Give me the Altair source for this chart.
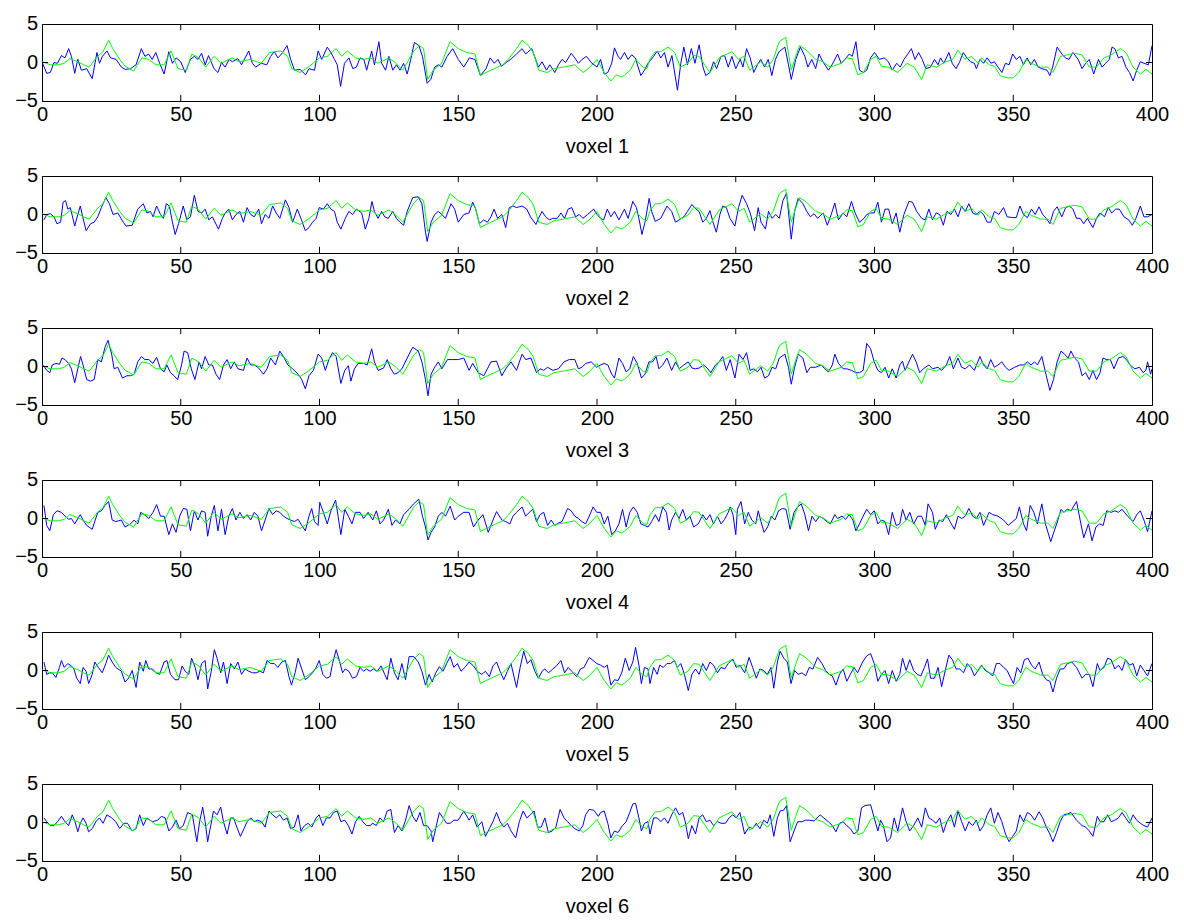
import altair as alt
import pandas as pd

X_TICKS = [0, 50, 100, 150, 200, 250, 300, 350, 400]
Y_TICKS = [-5, 0, 5]
Y_LABELS = ["\u22125", "0", "5"]
TITLES = ["voxel 1", "voxel 2", "voxel 3", "voxel 4", "voxel 5", "voxel 6"]

GREEN = [(0,0.1),(3,-0.3),(6,-0.3),(8,-0.1),(10,0.5),(13,0.1),(15,-0.3),(17,-0.6),(20,0.8),(22,1.4),(24,2.9),(25.5,1.8),(28,0.4),(30,-0.5),(33,-1.1),(36,0.6),(38.5,0.4),(41,-0.3),(44,-0.3),(46.5,1.5),(49,-0.8),(52,-1.0),(54,1.1),(56.5,0.6),(59,-0.6),(62,0.8),(64.5,-0.1),(68.5,0.6),(71,0.1),(75,0.4),(79,-0.1),(82,1.3),(86,1.5),(88.5,0.8),(90,-0.8),(93,-1.3),(96,-0.6),(100,0.6),(102.8,0.8),(106,1.8),(108,0.8),(110,1.5),(113,0.6),(116,0.4),(118.5,0.6),(121,-0.1),(125,0.6),(127.6,-0.1),(130,-1.0),(134,1.5),(136,2.2),(137.5,1.8),(139,-2.2),(141,-1.0),(144,-0.1),(147,2.7),(150,1.8),(153,1.3),(156,1.1),(158,-1.7),(160,-1.3),(163,-0.8),(166,-0.3),(168,0.4),(171,1.8),(173,2.9),(175,2.3),(177,1.3),(179,-1.0),(182,-1.3),(184.5,-0.8),(188,-0.6),(192,-0.3),(195,-1.3),(197.5,-0.6),(200,0.4),(202.6,-1.3),(205,-2.4),(207,-1.6),(209,-1.9),(212,-1.0),(214,0.4),(216.5,-0.6),(218,-0.8),(219,0.4),(221,1.4),(223,1.4),(225.6,2.0),(228,1.3),(230,-0.6),(232.8,-0.1),(234.8,0.9),(236.8,0.8),(238.8,-0.3),(240.7,-1.3),(244,0.6),(248.6,1.4),(251,0.4),(253,0.8),(255,-1.0),(259,0.1),(261.5,-0.6),(263.5,0.4),(265.7,2.7),(268,3.3),(270,-1.0),(271.6,0.8),(273,2.2),(275.5,1.6),(278.8,0.4),(281.4,0.1),(284,-0.6),(288,-0.1),(290,0.6),(292,0.5),(294,-1.6),(296,-1.3),(298.6,0.4),(300.6,0.8),(302.5,-0.5),(305,-0.6),(308.4,-1.3),(311.7,-0.1),(314.3,-0.6),(317,-2.2),(319,-0.3),(322.3,-0.6),(325.6,0.1),(328.2,0.4),(330,1.6),(332.6,0.4),(335,0.8),(337.3,-0.1),(338.6,0.6),(341.4,-0.3),(343.3,-0.5),(345.3,-1.7),(348,-2.0),(350,-2.0),(352,-1.3),(354.5,0.4),(356.5,-0.1),(359.8,-0.6),(362.5,-0.6),(364.3,-1.3),(367,0.8),(369.6,1.0),(372,1.2),(374.8,1.0),(377.4,-0.6),(380,-0.6),(382.7,0.6),(385.3,1.0),(388.6,1.8),(390.6,1.3),(393.2,-0.6),(395.8,-1.5),(397.8,-0.9),(400,-1.5)]

BLUE1 = [(0,0.1),(1.7,-1.4),(3,-1.3),(4.3,0.0),(5.6,-0.1),(7,0.9),(8.3,0.6),(9.6,1.8),(10.6,0.8),(11.8,-1.4),(12.9,0.4),(14.2,-1.0),(16.1,-0.8),(18.1,-2.1),(19.8,1.3),(20.7,-0.1),(21.8,0.8),(23.4,1.5),(24.7,0.6),(26.7,0.4),(28.6,-0.6),(30,-0.9),(31.9,-0.8),(33.9,-0.3),(35.8,1.8),(37.1,0.8),(38.4,1.1),(39.7,0.4),(41,1.3),(42.4,-0.1),(44,-1.5),(45.7,1.4),(47,-0.1),(48.3,0.6),(50,0.1),(51.6,-1.3),(53.5,0.4),(54.9,0.8),(56.2,0.4),(57.5,1.2),(58.8,-0.3),(60,0.9),(62,-0.8),(63.4,-1.3),(64.7,0.0),(66,-0.6),(67.4,0.4),(68.6,0.1),(70.6,0.5),(71.9,-0.3),(73.2,0.6),(74.5,1.5),(75.8,-0.1),(77,-0.6),(79,-0.1),(81,-0.3),(82.4,0.8),(83.7,1.4),(85,0.6),(86.3,1.1),(88.3,2.2),(89.6,0.4),(91,-1.0),(93,-0.9),(95,-1.6),(96.2,-0.8),(98.2,-1.0),(99.5,1.5),(100.8,0.4),(102.8,2.0),(104.1,1.3),(105.4,0.4),(106.4,-0.3),(107.6,-3.1),(109,-0.1),(110.6,0.6),(112,-0.8),(113.3,-0.6),(114.6,0.6),(116,0.4),(117,-1.0),(118.8,1.5),(119.8,-0.3),(121.4,2.7),(122.4,-0.1),(123.8,-1.0),(125,0.8),(126.4,-1.0),(127.7,-0.3),(129,-1.0),(130.3,-0.1),(131.6,-1.5),(132.9,0.4),(134.2,2.6),(135.8,2.2),(137.1,0.8),(138.8,-2.7),(140.1,-2.2),(141.5,-0.6),(142.8,-0.3),(144.1,-0.6),(146,0.8),(148,1.8),(150,0.4),(152,-0.6),(154,0.6),(156,0.4),(158,-1.7),(160,-0.8),(161.5,0.6),(163,-0.1),(164.3,0.4),(165.6,-0.5),(167.6,0.1),(168.9,0.4),(171,1.1),(173,1.8),(174.3,1.1),(176.5,1.8),(178.9,-0.6),(180.2,0.1),(181.8,-1.0),(183,-0.3),(184.8,-1.3),(186.1,-0.3),(187.4,0.4),(188.7,0.0),(190.7,1.2),(192,0.6),(193.3,-0.1),(194.6,0.4),(196.2,0.8),(197.9,0.0),(200,-0.6),(201.3,0.4),(202.6,-1.5),(203.9,-1.3),(205.3,-0.1),(206.3,1.9),(207.6,0.8),(208.5,0.4),(209.9,1.3),(211.2,0.4),(212.5,1.0),(213.8,0.6),(215.8,-1.7),(217.1,-1.0),(218.4,-0.1),(220.4,0.8),(221.7,1.5),(223,0.6),(224.3,1.3),(225.6,-0.6),(227,0.9),(229,-3.6),(230.2,-0.1),(231.3,2.0),(232.6,-0.3),(234,1.8),(235.3,-0.1),(236.8,2.3),(238.2,-0.6),(239.2,-1.7),(240.7,-1.3),(242,0.1),(243.1,-0.8),(244.7,0.8),(246,0.9),(247.3,-0.6),(248.6,0.8),(250,-0.8),(251.6,0.4),(252.6,-0.6),(253.9,1.8),(255.2,0.6),(256.5,-1.3),(257.8,-0.3),(259,0.4),(260.4,-0.6),(261.7,0.4),(263,-1.7),(264.3,0.4),(265.6,1.4),(267.7,2.0),(269,-0.3),(270,-2.2),(271.6,0.4),(273.3,2.0),(274.9,0.8),(276,-0.6),(277.4,0.4),(278.8,-0.8),(280,1.1),(281.4,0.1),(283.4,-1.0),(284.7,-0.3),(286.7,1.1),(288,-0.1),(289.3,0.4),(290.9,1.1),(292,0.8),(293.3,2.7),(294.6,-1.0),(296,-1.3),(297.2,-1.0),(298.6,0.6),(300,1.3),(301.8,0.4),(303.5,0.6),(305,0.1),(306.4,-1.0),(308,-0.1),(309.3,-0.6),(310.6,0.4),(312,1.1),(313.3,1.8),(314.6,0.4),(315.9,1.3),(317.2,0.4),(318.5,-0.8),(320.2,-0.6),(321.6,0.4),(322.9,-0.3),(323.8,0.6),(325,-0.1),(326.8,1.3),(328,-0.1),(329.4,-0.8),(330.7,0.1),(332,1.3),(333.3,0.6),(334.6,0.1),(336,-0.1),(336.7,-0.8),(338,0.4),(339.3,-0.1),(340.6,0.6),(342,-0.1),(343.2,0.1),(344.5,-0.6),(345.9,-1.3),(347.2,-0.1),(348.5,-0.3),(349.8,1.1),(351.1,0.4),(352.4,0.8),(353.7,-0.3),(355,0.6),(356.3,-0.3),(357.6,0.4),(359,-0.6),(360.3,-0.8),(362.2,-1.0),(363.2,-1.7),(364.2,-0.6),(365.8,2.0),(367.5,1.1),(368.8,0.6),(370.1,0.4),(371.5,1.3),(373.4,0.4),(374.8,-0.8),(376.1,-0.1),(377.4,0.4),(379,-1.5),(380.7,0.4),(382,-0.6),(383.3,-0.1),(384.6,0.4),(385.6,2.0),(386.6,1.8),(387.9,0.6),(389.2,0.8),(390.6,-0.6),(391.9,-1.3),(393.2,-2.4),(394.5,-1.0),(395.8,0.1),(397.1,-0.1),(398.7,-0.3),(400,2.2)]

BLUE2 = [(0.7,-0.7),(1.7,0),(3.0,0.1),(4.3,-0.3),(5.4,-1.2),(6.7,-1.0),(7.6,1.6),(8.5,1.8),(9.3,0.7),(10.2,0.9),(11.8,-1.5),(12.9,0),(13.8,1.1),(14.8,-0.5),(15.9,-2.1),(17.5,-1.2),(18.8,-1.0),(20.1,-0.3),(21.4,0.9),(23.0,2.2),(24.3,1.4),(25.6,0),(27.3,0.2),(29.3,-1.0),(30.3,-1.5),(32.5,-1.4),(34.5,0.7),(36.5,1.4),(37.8,0.2),(39.1,0.4),(40.0,-0.3),(41.3,1.1),(42.7,0),(43.7,-0.5),(44.8,1.4),(45.9,1.1),(47.0,-1.0),(48.0,-2.6),(49.2,-1.2),(50.9,1.1),(52.2,-0.7),(53.5,-0.3),(54.9,2.5),(56.2,0.4),(57.5,0.2),(58.8,0.7),(60.1,-0.7),(61.4,-0.3),(63.6,-1.9),(65.0,-0.5),(66.0,0.2),(67.3,0.7),(68.6,-0.7),(69.9,0),(71.3,0.4),(72.6,-1.0),(73.9,0.9),(75.2,0),(76.5,-0.3),(78.1,0.7),(79.1,-1.2),(80.4,0),(81.8,-0.5),(83.1,1.1),(84.4,0.2),(85.7,-0.5),(87.7,1.9),(89.0,0.9),(90.3,-1.0),(92.0,0.7),(93.3,-0.5),(94.9,-2.1),(96.2,-1.7),(97.5,-1.0),(98.8,-0.5),(99.9,0.9),(101.4,0.7),(102.8,1.4),(104.1,0.7),(105.4,0.4),(106.4,-1.0),(107.7,-1.9),(109.3,-0.5),(110.6,0.4),(111.9,0),(113.3,0.7),(115.2,0.2),(116.5,-1.9),(117.8,-0.5),(118.9,1.7),(119.8,0.4),(121.1,-0.5),(122.4,0.4),(123.5,-0.3),(124.8,-0.5),(126.4,0.4),(127.7,-0.5),(129.0,-1.0),(130.3,-1.4),(131.6,0.4),(133.6,2.2),(135.6,2.3),(136.9,1.4),(138.2,-2.3),(138.8,-3.5),(140.2,-1.0),(141.5,0),(142.8,0.4),(144.1,0),(145.4,-0.5),(147.4,1.4),(148.7,0.7),(150.0,-1.0),(152.0,0),(153.9,0.2),(155.2,1.6),(156.3,0.7),(157.6,-1.2),(159.2,-0.7),(160.5,-1.0),(161.8,-0.3),(162.9,0.7),(164.2,-0.5),(165.7,0),(167.1,-1.7),(168.4,0.9),(169.7,1.1),(171.0,0.9),(173.0,1.1),(174.7,0.7),(176.0,-0.3),(178.0,-1.3),(178.9,-0.5),(180.2,0.4),(181.5,-0.3),(182.8,-0.7),(184.1,-0.5),(185.7,-0.5),(187.0,0.2),(188.3,-0.5),(189.6,0.7),(190.9,0.9),(192.3,-0.3),(193.6,0),(194.9,-0.5),(196.6,0),(198.8,0.7),(200.0,0),(201.3,-0.5),(202.4,-0.7),(203.7,0.7),(205.0,-0.3),(206.3,0.4),(207.9,-0.7),(209.9,0.7),(211.2,-0.5),(212.9,1.7),(214.2,0.9),(215.1,-0.5),(216.2,-2.6),(217.3,-1.0),(218.8,2.1),(219.7,0.4),(221.0,-0.9),(223.0,-0.5),(225.2,1.1),(226.9,0.4),(228.3,-1.0),(229.6,-0.7),(231.3,-0.3),(232.6,0.4),(234.2,1.3),(235.7,0.7),(236.8,0.4),(238.1,-1.0),(239.4,-0.5),(240.7,0.5),(241.8,-1.0),(243.0,-2.3),(244.3,0),(245.3,1.1),(246.6,0.9),(247.9,-0.5),(249.7,-1.5),(251.0,0.9),(252.3,2.5),(253.9,1.4),(255.2,0.2),(256.8,-2.1),(258.1,0.9),(259.1,-1.0),(260.7,-1.9),(261.8,0.4),(263.1,-0.5),(264.4,0),(265.7,-0.5),(267.0,1.8),(268.3,2.8),(270.0,-3.2),(271.2,0.4),(272.5,2.1),(274.2,1.4),(275.6,0.4),(276.9,-0.3),(278.2,0.1),(279.5,-0.5),(281.5,0.2),(283.0,-1.4),(284.4,0),(285.7,1.5),(287.0,-0.7),(288.7,0.2),(290.0,-0.3),(291.7,1.7),(293.0,0.2),(294.6,-1.0),(296.2,-0.5),(297.2,0),(298.6,0.2),(299.9,0.2),(301.2,1.6),(302.5,-1.0),(303.8,0.7),(305.1,0.7),(306.4,-1.2),(307.8,0.2),(309.1,-2.3),(310.6,0),(312.4,1.7),(313.7,1.6),(315.2,0.4),(317.0,-0.5),(318.3,-0.7),(319.6,0.7),(320.9,-0.7),(322.2,0.2),(323.5,0),(324.8,-1.4),(326.1,0.4),(327.5,0),(328.8,0.7),(330.1,-0.3),(331.4,1.1),(332.7,0.4),(334.0,1.4),(335.4,0.2),(336.7,0),(338.0,0.4),(339.3,0),(340.6,-1.0),(341.9,-1.0),(343.2,0.4),(344.8,0),(346.5,0.9),(347.8,-0.3),(349.8,-0.4),(351.1,-0.4),(352.4,1.1),(353.7,0),(355.1,-0.4),(356.6,0.7),(357.9,0),(359.3,1.0),(360.6,0),(361.9,-0.5),(363.2,-1.2),(364.5,0.4),(365.8,1.0),(367.5,-0.3),(368.9,0.9),(370.2,1.1),(371.5,0.7),(372.8,-0.5),(374.1,-0.5),(375.4,-1.2),(376.7,-0.5),(378.7,-1.7),(380.0,-0.5),(381.3,0.2),(382.9,-0.3),(384.2,0.9),(385.5,0.2),(386.9,0.7),(388.2,0.7),(389.9,-0.3),(391.6,-0.7),(392.9,-1.4),(394.2,-0.5),(395.8,1.1),(397.1,-0.3),(398.4,-0.3),(400.0,0)]

BLUE3 = [(0.4,0.2),(1.7,-0.5),(2.8,-0.8),(3.7,0.2),(5.0,0.4),(6.3,0.3),(7.2,1.1),(8.3,0.9),(9.6,0.4),(10.6,-0.3),(11.8,-2.1),(12.9,-0.3),(13.9,1.3),(14.8,0.2),(16.1,-1.7),(17.5,-1.9),(18.8,-1.7),(20.1,0.9),(21.4,0.6),(22.7,2.5),(23.8,3.4),(25.1,1.6),(26.0,-0.3),(27.3,-0.1),(29.0,-1.5),(30.6,-1.2),(31.9,-1.2),(33.2,-1.0),(34.5,0.6),(35.8,1.3),(37.1,0.9),(38.5,0.9),(40.0,0.4),(41.3,1.2),(42.7,-0.3),(44.0,-0.7),(45.0,0.2),(46.3,-0.8),(47.6,-1.2),(48.9,-1.7),(50.3,0.2),(51.2,2.0),(52.5,1.8),(53.8,-0.3),(55.1,-1.7),(56.6,0.6),(57.5,-0.3),(58.8,1.3),(60.1,0.2),(61.4,0.2),(62.7,-1.0),(64.0,-1.7),(65.4,0.2),(66.7,0.9),(68.0,-0.3),(69.3,0.6),(70.6,-0.3),(72.6,-0.5),(73.9,1.1),(75.2,0.2),(76.5,0.2),(77.8,-0.1),(79.8,-1.0),(81.1,-0.3),(82.4,1.1),(84.1,0.2),(85.7,2.0),(87.0,1.3),(88.6,0.2),(90.3,-0.3),(92.3,-1.0),(93.6,-1.7),(94.9,-2.9),(96.2,-1.2),(97.8,-0.5),(99.5,1.6),(100.8,1.1),(102.1,-0.5),(103.4,0.9),(104.7,1.8),(106.0,1.3),(107.7,-2.2),(109.1,-0.5),(110.4,0.1),(111.3,-1.9),(112.6,-0.3),(113.9,0.4),(115.9,0.4),(117.2,0.2),(118.8,2.3),(119.8,0.6),(121.1,-0.5),(123.1,-0.2),(124.4,0.9),(125.7,-0.3),(127.0,-1.0),(128.3,-0.8),(129.7,-0.3),(131.6,1.1),(133.6,2.5),(135.6,2.0),(136.9,0.6),(138.2,-1.7),(139.1,-3.8),(140.2,-1.0),(141.5,-0.1),(142.8,0.6),(144.1,-0.3),(146.1,0.9),(148.0,0.9),(150.0,0.9),(152.0,1.1),(153.9,-0.5),(155.2,0.4),(157.2,-0.8),(159.2,-1.2),(160.5,-0.3),(161.8,0.6),(163.8,0.7),(165.7,-1.2),(167.1,-0.3),(169.0,0.6),(171.0,-0.5),(173.0,1.6),(174.3,0.9),(176.2,1.1),(178.2,-0.8),(179.5,-0.3),(180.8,-0.5),(182.2,-0.1),(184.1,-0.5),(186.1,-0.3),(188.1,0.6),(190.0,0.9),(192.0,0.9),(193.3,-0.3),(194.6,-0.1),(195.9,0.4),(197.9,0.6),(199.9,-0.1),(201.3,0.2),(202.6,0.4),(203.9,0.2),(205.3,-1.0),(206.3,-1.5),(207.9,1.1),(209.2,0.4),(210.5,-0.7),(211.8,-0.3),(213.1,1.3),(214.5,0.4),(216.0,-1.5),(217.3,-1.0),(218.7,0.6),(220.0,0.6),(221.3,1.3),(222.3,-0.3),(223.7,0.2),(225.2,1.1),(226.9,-0.5),(228.3,0.6),(229.6,-0.3),(231.3,0.2),(232.9,0.6),(234.2,-0.2),(235.5,-0.3),(236.8,-0.2),(238.4,0.2),(239.7,-0.2),(241.0,-0.8),(242.7,0.2),(244.0,0.6),(245.3,1.3),(246.6,-0.5),(248.0,0.9),(249.7,-1.5),(251.2,1.6),(252.6,0.9),(253.9,1.8),(255.2,-0.5),(256.5,-0.3),(257.8,-0.7),(259.1,-0.1),(260.4,-1.5),(261.8,-1.2),(263.1,-0.1),(264.4,-0.3),(265.7,1.1),(267.7,1.6),(269.0,-0.1),(270.0,-2.3),(271.2,-0.1),(272.5,1.6),(274.2,1.1),(275.6,-0.8),(276.9,-0.1),(278.8,-0.1),(280.8,0.2),(282.1,-0.3),(283.4,-0.7),(284.8,0.2),(285.7,1.6),(287.0,0.4),(288.7,-0.3),(290.0,-0.3),(291.7,-0.5),(293.3,-0.8),(294.6,-0.8),(295.9,-0.5),(297.2,3.0),(298.6,2.3),(299.9,0.6),(301.2,-0.5),(302.5,-0.8),(303.8,-0.1),(305.1,-1.5),(306.4,-0.3),(307.8,-1.5),(309.1,0.2),(310.1,0.7),(311.0,-0.5),(312.4,0.6),(313.7,1.6),(315.0,0.6),(316.3,-0.8),(317.6,-0.3),(319.6,0.2),(320.9,-0.3),(322.9,-0.1),(324.2,-0.5),(325.9,0.2),(327.1,1.3),(328.4,-0.3),(330.1,1.1),(331.4,-0.1),(332.7,-0.3),(334.3,0.2),(336.0,-0.5),(338.0,1.3),(339.3,0.2),(340.6,-0.3),(341.9,0.9),(343.2,-0.1),(344.5,0.2),(345.9,0.6),(347.2,-0.1),(348.5,-0.5),(350.5,-0.1),(352.4,0.2),(353.7,0.2),(355.1,0.6),(356.4,0.2),(357.7,0.6),(358.7,0.2),(360.3,1.3),(361.9,-1.2),(363.2,-3.1),(364.5,-1.7),(365.8,0.6),(367.2,2.0),(368.5,1.6),(369.8,1.1),(370.8,2.0),(372.1,1.1),(373.5,0.6),(374.8,-1.2),(376.1,-0.8),(377.4,-1.7),(378.7,-0.5),(380.0,-1.7),(381.3,-0.8),(382.3,1.1),(383.7,0.9),(385.0,0.9),(386.3,-0.3),(387.9,1.1),(389.5,1.3),(390.8,0.9),(392.1,0.2),(393.8,-0.3),(395.5,-0.1),(396.8,-0.8),(397.8,-0.5),(398.4,0.6),(399.5,-1.0),(400.0,-0.3)]

BLUE4 = [(0.7,1.7),(1.7,-0.9),(2.8,-1.6),(4.1,0.5),(5.4,1.0),(7.0,0.8),(8.3,0.3),(9.6,-0.1),(10.6,0),(11.8,-0.7),(12.9,0),(13.8,0.5),(14.8,-0.2),(16.1,-0.9),(18.1,-1.4),(20.1,0.8),(21.4,1.0),(22.7,1.7),(24.0,2.2),(25.3,-0.2),(26.6,-0.4),(28.6,-0.2),(29.9,-1.1),(31.9,-0.7),(33.2,-0.2),(34.5,-0.7),(35.6,0.8),(36.9,0.5),(38.5,0),(40.0,0.8),(41.3,1.8),(42.7,0.3),(44.0,0.3),(45.7,-2.1),(47.0,-0.7),(48.3,-1.8),(49.6,0.3),(50.9,1.3),(52.2,1.2),(53.5,-1.6),(54.9,1.0),(56.2,-0.2),(57.5,1.0),(58.8,0.8),(59.7,-2.3),(61.0,0.3),(62.1,1.7),(63.4,-1.6),(64.7,1.2),(66.0,-2.1),(67.3,0.3),(68.6,1.3),(69.9,-0.2),(71.3,0.8),(72.6,0),(73.9,0.5),(75.2,-0.2),(76.5,0.8),(77.8,0.3),(79.1,-1.6),(80.4,-0.2),(81.8,1.3),(83.1,0.5),(84.4,1.0),(85.7,0.8),(87.0,0.3),(88.3,0),(89.6,-0.2),(90.9,-0.4),(92.3,-0.1),(93.6,-0.9),(94.9,-1.6),(96.2,0.3),(97.2,1.3),(98.2,-0.4),(99.5,-0.9),(100.1,2.1),(101.4,0.8),(102.8,-0.7),(104.1,1.0),(105.8,2.4),(106.7,0.3),(107.7,-2.1),(109.1,1.2),(110.4,0.3),(111.7,-0.7),(113.0,0.8),(114.6,0.8),(115.9,0),(117.5,0.8),(119.2,-0.2),(120.5,1.0),(121.8,-0.7),(123.1,-0.2),(124.8,1.2),(126.1,-0.9),(127.4,-0.2),(129.0,-0.7),(130.3,0.5),(132.3,1.2),(133.9,1.9),(135.8,2.5),(137.1,0.3),(138.2,-1.1),(139.1,-2.8),(140.2,-1.8),(141.5,-1.1),(142.8,0.3),(144.1,0.8),(145.4,0.3),(147.1,1.6),(148.7,-0.2),(150.0,0.3),(152.0,0.8),(153.9,0.8),(155.5,-1.1),(157.2,-0.2),(158.9,0.5),(160.8,-1.8),(162.5,-0.2),(163.8,0.9),(165.7,-0.2),(167.1,-0.4),(168.6,-0.7),(169.7,0.3),(171.0,0.8),(173.0,1.5),(174.3,0.3),(175.6,0.8),(176.9,1.2),(178.2,-0.4),(179.5,0.5),(180.8,0.8),(182.2,-0.9),(183.5,-0.2),(184.8,-0.9),(186.1,-0.6),(187.4,-0.4),(189.4,1.3),(190.7,1.0),(192.0,0.3),(193.3,0),(194.6,-0.4),(195.9,-0.7),(197.2,0.3),(198.6,1.5),(199.9,0.8),(201.3,0.8),(202.6,-0.7),(203.9,0.3),(205.3,-2.1),(206.6,-1.6),(207.9,-0.7),(209.2,1.2),(210.5,-1.1),(211.8,0.8),(213.1,1.5),(214.5,0.8),(215.8,-0.7),(217.1,-0.9),(218.4,-1.1),(219.7,-0.4),(221.0,0.5),(222.3,-0.4),(223.7,1.5),(225.0,0.8),(226.0,-1.5),(226.9,-0.2),(228.3,0.8),(229.6,0),(230.9,1.2),(232.2,-0.2),(233.5,0.3),(234.8,-1.1),(236.5,-0.7),(238.1,0.5),(239.4,-0.2),(240.7,0.5),(242.0,-0.7),(243.4,0.3),(244.7,-0.7),(246.0,-0.1),(247.3,0.8),(248.0,1.5),(249.0,0.5),(250.0,-2.1),(250.6,1.2),(251.9,2.2),(253.2,-0.7),(254.5,0.8),(255.8,-0.2),(257.2,-0.7),(258.1,1.0),(259.1,-0.4),(260.2,-1.8),(261.5,-1.1),(262.8,0.3),(264.1,-0.2),(265.4,1.0),(266.8,1.3),(268.1,1.2),(269.6,-1.4),(271.0,0.8),(272.3,1.5),(273.6,1.9),(274.9,0.5),(276.2,-1.6),(277.5,0.3),(278.8,-0.4),(280.2,0.3),(281.5,0),(282.8,-0.4),(284.1,-0.7),(285.7,0.5),(286.7,0),(288.3,0.3),(289.6,-0.1),(290.9,0.5),(292.2,-0.2),(293.3,-1.6),(294.6,-0.7),(295.9,0.3),(297.2,1.2),(298.6,0.5),(299.9,1.0),(301.2,-0.7),(302.5,-0.2),(303.8,-0.4),(305.1,-2.1),(306.4,0.8),(307.8,-0.9),(309.1,-0.7),(310.1,1.2),(311.4,-0.2),(312.7,0.8),(314.1,-0.7),(315.6,0.3),(317.0,0.3),(318.3,-0.9),(319.3,1.9),(320.9,0.8),(321.9,-1.4),(323.3,-0.2),(324.6,-0.4),(325.9,0.5),(327.2,-0.4),(328.8,-1.4),(330.1,0.3),(331.4,0),(332.7,0.3),(334.0,1.3),(335.4,0.3),(336.7,0),(338.0,0.8),(339.3,-0.9),(341.3,0.8),(342.6,0.5),(344.5,0.3),(346.5,-0.2),(348.2,-0.9),(349.8,-0.4),(351.1,0),(352.2,1.5),(353.7,-0.7),(354.8,-1.6),(356.1,1.7),(357.4,0.8),(358.7,-0.7),(360.3,1.9),(361.6,-0.7),(363.5,-3.0),(364.8,-1.6),(366.1,-0.2),(367.2,1.2),(368.2,0.8),(369.5,1.2),(370.8,1.0),(372.8,2.2),(374.1,-0.2),(375.4,-2.5),(377.1,-0.7),(378.4,-2.9),(379.8,-1.1),(381.1,-0.7),(382.4,-0.9),(383.7,1.0),(385.3,0.8),(386.6,1.0),(387.9,0.8),(389.2,1.2),(391.2,0.3),(393.2,-0.4),(394.5,0.5),(395.8,1.0),(397.1,-0.2),(398.4,-1.7),(400.0,1.0)]

BLUE5 = [(0.7,1.1),(1.7,-0.5),(2.8,-0.3),(3.7,-0.3),(5.0,-0.9),(6.3,0.4),(7.0,1.3),(8.0,0.4),(9.3,0.9),(10.6,0.6),(11.5,0.2),(12.5,-1.0),(13.8,-1.7),(14.8,0.4),(15.9,-0.1),(16.8,-1.7),(18.1,-0.5),(19.0,1.1),(20.3,0.4),(21.7,-0.3),(23.0,0.9),(24.0,2.0),(25.3,1.1),(26.6,0.4),(28.6,-0.1),(29.9,-1.5),(31.2,-1.0),(32.5,0),(33.9,-2.2),(35.2,1.1),(36.5,-0.1),(37.4,1.3),(38.5,0.2),(39.8,0.2),(41.1,-0.3),(42.4,-0.5),(44.0,1.1),(45.0,1.3),(46.3,-0.5),(47.9,-1.2),(49.2,-1.2),(50.5,0.6),(51.6,-0.1),(52.9,-0.5),(53.9,1.6),(55.2,0.4),(56.2,-1.2),(57.5,0.9),(58.8,1.3),(59.7,-2.4),(61.0,-0.1),(62.1,2.7),(63.1,1.6),(64.4,-0.3),(65.4,1.1),(66.7,-1.7),(68.0,0.9),(69.3,0.2),(70.6,1.1),(71.9,-0.5),(73.2,0.2),(74.5,-0.1),(75.9,-0.3),(77.2,-0.3),(78.5,-0.1),(79.8,-0.3),(81.1,1.3),(82.4,0.9),(83.7,0.9),(85.0,0.4),(86.4,1.1),(87.7,1.3),(89.0,-0.8),(89.9,-1.9),(91.2,-0.3),(92.3,1.6),(93.6,0.2),(94.9,-1.2),(96.2,-0.8),(97.5,-0.3),(98.8,0.4),(99.9,1.3),(101.2,-0.5),(102.5,-1.0),(103.8,-0.8),(104.7,0.9),(106.0,2.7),(107.3,1.1),(108.3,-0.3),(109.3,0.2),(110.6,-0.1),(111.9,-1.0),(113.3,-0.8),(114.6,0.4),(115.9,-0.1),(116.9,0.2),(118.2,-0.1),(119.5,0.2),(120.8,-0.1),(122.2,0.6),(123.5,-0.5),(124.4,-1.2),(125.7,1.6),(127.0,-0.3),(128.3,-1.2),(129.7,0.9),(131.0,-1.2),(132.3,1.8),(134.0,1.8),(135.6,1.1),(136.9,-0.1),(138.2,-1.9),(139.5,-0.5),(140.6,-1.5),(141.9,-0.3),(143.2,0.5),(144.5,-0.1),(145.8,0.9),(147.1,1.8),(148.4,0.4),(149.7,0.9),(151.0,-0.1),(152.4,0.4),(153.9,1.1),(155.5,0.6),(156.8,-0.1),(158.5,-0.5),(159.8,-0.1),(161.2,-0.8),(162.5,0.6),(163.8,1.1),(165.1,-0.1),(166.4,-1.2),(167.7,-0.1),(169.0,0.9),(171.0,-2.2),(172.3,0.4),(173.6,2.5),(174.9,0.9),(176.2,1.4),(177.6,-0.1),(178.9,-1.0),(180.2,-0.1),(181.2,0.2),(182.5,-0.3),(184.1,0.2),(185.4,0.6),(187.0,1.3),(188.3,-0.3),(189.6,0.4),(190.9,-0.1),(192.7,-0.8),(194.0,0.2),(195.3,0.4),(197.2,1.7),(198.6,1.3),(199.9,0.9),(201.3,0.7),(202.6,0.4),(203.7,0.7),(205.0,-1.9),(206.3,-1.2),(207.6,-1.3),(208.9,-0.3),(210.2,1.6),(211.6,0),(212.9,1.1),(213.9,3.0),(215.1,0.7),(216.0,-1.7),(217.1,0.4),(218.4,0.2),(219.1,-1.7),(220.4,0.4),(221.7,-0.5),(222.6,0.7),(223.9,0.4),(225.2,0.9),(226.5,0.9),(227.9,1.3),(228.9,0.4),(230.2,0.9),(231.5,-0.5),(232.9,-2.6),(234.2,-0.5),(235.5,0.2),(236.8,-0.5),(238.1,0.9),(239.4,0),(240.7,1.1),(242.0,0.7),(243.4,-0.3),(244.7,0.4),(246.0,0.2),(247.3,0.9),(248.9,1.5),(250.2,0.4),(251.5,0.7),(253.2,-0.3),(254.8,1.7),(256.1,0.4),(257.4,-1.0),(258.7,0.2),(260.1,0),(261.4,-0.5),(262.7,0.4),(263.7,-2.3),(265.0,1.1),(266.0,2.5),(267.3,1.6),(268.6,1.1),(269.9,-1.7),(271.2,0),(272.5,-0.5),(273.9,-0.3),(275.2,-0.7),(276.5,0.4),(277.8,0.2),(279.5,1.7),(281.1,0.9),(282.4,0),(283.7,-0.5),(284.8,-0.7),(286.1,-1.9),(287.4,-0.5),(288.7,0.2),(290.0,-1.4),(291.3,-0.5),(292.6,0.4),(293.9,-0.3),(295.7,1.1),(297.2,1.9),(298.6,2.2),(299.9,0.9),(301.2,-1.4),(302.5,-0.5),(303.8,0),(305.1,-1.7),(306.4,0),(307.8,-1.4),(309.1,-0.5),(310.1,1.6),(311.4,0),(312.7,1.4),(314.1,0),(315.4,-0.5),(316.7,-0.7),(318.0,0.4),(319.1,1.5),(320.2,-1.0),(321.6,-1.0),(322.9,0.4),(324.2,-2.1),(325.5,0),(326.8,2.0),(328.1,1.4),(329.4,0.2),(330.7,0.2),(332.1,-0.3),(333.4,0.9),(334.7,0.4),(336.0,-0.7),(337.3,0),(338.6,0.7),(339.9,0),(341.3,-0.3),(342.6,-0.7),(343.9,0.9),(345.2,0.9),(346.5,0.4),(347.8,0),(349.1,-1.0),(350.1,-1.7),(351.4,0.4),(352.7,-0.3),(354.0,1.4),(355.3,1.6),(356.6,0.7),(357.9,0.2),(359.3,1.1),(360.6,-0.5),(361.9,-1.2),(363.2,-1.4),(364.3,-2.8),(365.6,-1.0),(366.9,0.2),(368.2,0.2),(369.5,0.9),(371.1,1.1),(372.8,0.4),(374.8,-1.0),(376.1,-0.5),(377.4,-0.5),(378.7,-2.1),(380.3,0.9),(381.3,0),(382.7,0.4),(384.0,1.6),(385.3,1.4),(386.6,0.2),(387.9,0.7),(389.2,0),(390.5,1.4),(391.9,0.7),(393.2,0.9),(394.5,-0.7),(395.8,0.7),(397.1,0),(398.4,-0.7),(400.0,0.9)]

BLUE6 = [(0.7,0.6),(1.7,0.1),(3.0,-0.4),(4.3,-0.4),(5.6,0.1),(7.0,0.8),(8.3,0.1),(9.6,-0.4),(10.9,1.0),(11.9,0.1),(12.9,-1.2),(13.8,-0.1),(14.8,0.6),(15.9,-0.1),(16.8,-1.2),(18.1,-0.8),(19.4,0.1),(20.7,0.6),(22.0,-0.1),(23.4,1.0),(25.1,0.6),(26.6,0.1),(28.0,-0.8),(29.5,-0.1),(30.8,-0.1),(32.5,-1.1),(33.9,-0.8),(35.2,1.0),(36.5,-0.4),(37.8,0.6),(39.8,0.1),(41.7,0.3),(43.0,0.8),(44.4,0.6),(45.7,-1.1),(47.0,-0.6),(48.3,0.3),(49.6,-0.8),(50.9,-0.4),(52.5,1.3),(54.2,1.0),(55.8,-2.5),(56.8,0.1),(57.9,2.0),(58.8,0.1),(59.7,-2.5),(60.8,-0.4),(61.8,1.5),(63.1,1.0),(64.4,2.0),(65.4,0.1),(66.7,-1.5),(68.0,0.6),(69.0,0.6),(70.2,-0.6),(71.5,-1.8),(72.8,-0.8),(73.9,0.1),(75.2,0.6),(76.5,0.1),(77.8,0.3),(79.1,0.1),(80.4,-0.6),(81.8,1.5),(83.1,1.0),(84.4,0.6),(85.7,1.0),(87.0,0.3),(88.3,0.6),(89.6,-0.8),(90.9,-0.6),(92.3,1.0),(93.3,-1.1),(94.6,-0.4),(95.9,-0.1),(97.2,-0.6),(98.8,0.6),(99.9,1.0),(101.2,-0.4),(102.5,0.6),(103.8,0.6),(105.1,1.3),(106.4,1.5),(107.7,0.1),(109.1,0.3),(110.4,-0.4),(111.7,-1.5),(113.0,0.1),(114.3,0.8),(115.6,0.1),(116.9,-0.4),(118.2,-0.4),(119.2,-0.1),(120.5,-0.4),(121.8,0.6),(123.1,0.1),(124.4,1.5),(125.7,1.7),(127.0,-1.3),(128.3,-0.4),(129.7,-1.1),(131.0,0.3),(132.3,2.2),(133.6,0.8),(134.9,0.1),(136.2,1.3),(137.5,-0.4),(138.8,-0.4),(140.2,-1.1),(140.8,-2.5),(142.1,-0.4),(143.2,1.3),(144.5,0.6),(145.8,-0.1),(147.1,-0.1),(148.4,0.3),(150.0,0.3),(152.0,1.5),(153.9,0.3),(155.2,1.0),(156.8,-0.6),(158.5,0.1),(159.8,-1.8),(161.2,-0.8),(162.5,0.1),(163.8,1.3),(165.1,0.1),(166.4,-0.6),(167.7,-0.1),(169.0,-1.1),(170.7,-2.0),(172.0,0.1),(173.4,1.5),(174.7,0.6),(176.0,1.0),(177.3,1.5),(178.6,-0.6),(179.9,-0.6),(181.2,0.6),(182.5,-1.3),(183.9,-1.1),(185.2,-0.6),(186.7,1.7),(188.1,0.6),(189.4,0.1),(190.7,-0.4),(192.0,-0.8),(193.6,-1.1),(194.9,-0.4),(195.9,1.0),(197.2,1.7),(198.8,1.6),(200.5,0.8),(201.3,1.3),(202.6,1.5),(203.9,-0.1),(205.0,-2.0),(206.3,-1.1),(207.6,-1.3),(209.2,-0.4),(210.5,0.1),(211.8,1.3),(212.9,2.4),(213.9,2.5),(215.1,0.6),(216.0,-1.1),(217.1,-0.1),(218.4,0.1),(219.1,-1.5),(220.4,0.6),(221.7,0.6),(223.0,0.1),(224.3,0.6),(225.6,-0.1),(226.9,1.0),(228.3,1.9),(229.6,1.0),(230.9,1.3),(231.8,0.1),(232.9,-2.1),(234.2,-0.4),(235.5,-1.5),(236.8,0.6),(238.1,1.0),(239.4,0.1),(240.7,0.3),(242.0,-0.4),(243.4,0.1),(244.7,-0.1),(246.3,-0.1),(247.6,0.6),(248.9,1.0),(250.2,0.6),(251.5,1.3),(253.2,-1.5),(254.8,-0.6),(256.1,-0.8),(257.4,-0.1),(258.7,-0.8),(260.1,0.3),(261.4,-0.1),(262.4,1.0),(263.7,-1.8),(265.0,0.6),(266.0,1.5),(267.3,1.6),(268.3,2.2),(269.6,-2.5),(271.0,-1.1),(272.3,0.1),(273.9,0.1),(275.2,0.3),(276.5,0.3),(278.2,0.2),(280.4,1.0),(281.7,0.6),(283.4,0.1),(284.8,-0.4),(286.1,-1.2),(287.4,-0.1),(288.7,0.1),(290.0,-0.4),(291.3,-0.8),(292.6,-1.5),(294.0,-1.1),(295.3,1.9),(296.6,2.2),(298.6,2.3),(299.9,0.6),(301.2,-1.1),(302.2,0.3),(303.2,-0.4),(304.5,-2.5),(305.8,-2.0),(307.1,0.6),(308.4,-1.1),(310.1,1.9),(311.4,0.1),(312.7,-1.1),(314.1,-0.4),(315.6,0.6),(317.0,-0.6),(318.3,1.9),(319.6,0.6),(320.9,0.3),(322.2,-0.1),(323.5,0.6),(324.8,-1.3),(326.1,0.1),(327.5,1.0),(328.8,-0.6),(330.1,1.5),(331.4,0.1),(332.7,-1.1),(334.0,0.1),(335.4,-0.4),(336.7,0.3),(338.0,-1.1),(339.3,-0.4),(340.6,1.0),(341.9,1.9),(343.2,-0.1),(344.5,1.3),(345.9,0.1),(347.2,-1.5),(348.5,-2.5),(349.8,-1.8),(351.1,-1.1),(352.4,1.0),(353.7,0.1),(355.1,1.3),(356.4,1.0),(357.7,0.3),(359.3,1.4),(360.6,0.6),(361.9,-0.6),(363.2,-1.5),(364.3,-2.5),(365.6,-1.3),(366.9,0.1),(368.2,1.0),(369.5,1.1),(370.8,1.3),(372.8,0.3),(374.8,-0.4),(376.1,-0.6),(377.4,-1.1),(378.7,-1.8),(380.3,0.8),(381.3,0.1),(382.7,0.1),(384.0,1.0),(385.3,0.1),(386.6,0.3),(387.9,0.6),(389.2,1.3),(390.5,0.6),(391.9,-0.1),(393.2,1.0),(394.5,0.3),(395.8,-0.1),(397.1,-0.4),(398.4,-0.6),(400.0,0.6)]

BLUES = [BLUE1, BLUE2, BLUE3, BLUE4, BLUE5, BLUE6]

FONT = "Liberation Sans"
W, H = 1110, 77
TICK_Y = 0.8   # inward tick length in y data units
TICK_X = 2.2   # inward tick length in x data units

green_df = pd.DataFrame(GREEN, columns=["t", "v"])
inner = [t for t in X_TICKS if 0 < t < 400]
tick_bottom = pd.DataFrame({"t": inner, "v": [-5] * len(inner), "v2": [-5 + TICK_Y] * len(inner)})
tick_top = pd.DataFrame({"t": inner, "v": [5] * len(inner), "v2": [5 - TICK_Y] * len(inner)})
tick_side = pd.DataFrame({"t": [0, 400 - TICK_X], "t2": [TICK_X, 400], "v": [0, 0]})
ylab_df = pd.DataFrame({"t": [0] * len(Y_TICKS), "v": Y_TICKS, "lab": Y_LABELS})


def panel(title, blue):
    xs = alt.Scale(domain=[0, 400], nice=False, zero=False)
    ys = alt.Scale(domain=[-5, 5], nice=False, zero=False)
    x = alt.X("t:Q", scale=xs,
              axis=alt.Axis(values=X_TICKS, title=title, ticks=False, grid=False,
                            labelFlush=False, labelPadding=3, titlePadding=12,
                            labelOverlap=False, format="d"))
    y = alt.Y("v:Q", scale=ys,
              axis=alt.Axis(values=Y_TICKS, title=None, ticks=False, grid=False,
                            labels=False))
    bdf = pd.DataFrame(blue, columns=["t", "v"])
    blue_line = alt.Chart(bdf).mark_line(color="#0000ff", strokeWidth=1).encode(x=x, y=y)
    green_line = alt.Chart(green_df).mark_line(color="#00ff00", strokeWidth=1).encode(
        x=alt.X("t:Q"), y=alt.Y("v:Q"))
    tb = alt.Chart(tick_bottom).mark_rule(color="black", strokeWidth=1).encode(
        x="t:Q", y="v:Q", y2="v2")
    tt = alt.Chart(tick_top).mark_rule(color="black", strokeWidth=1).encode(
        x="t:Q", y="v:Q", y2="v2")
    ts = alt.Chart(tick_side).mark_rule(color="black", strokeWidth=1).encode(
        x="t:Q", x2="t2", y="v:Q")
    ylab = alt.Chart(ylab_df).mark_text(
        align="right", baseline="middle", dx=-4, font=FONT, fontSize=20, color="black"
    ).encode(x="t:Q", y="v:Q", text="lab:N")
    return alt.layer(blue_line, green_line, tb, tt, ts, ylab).properties(width=W, height=H)


chart = alt.vconcat(
    *[panel(t, b) for t, b in zip(TITLES, BLUES)], spacing=8
).properties(
    background="white", padding={"top": 5, "left": 6, "right": 5, "bottom": 5}
).configure_view(
    stroke="black", strokeWidth=1
).configure_axis(
    domainColor="black", domainWidth=1, labelColor="black", titleColor="black",
    labelFont=FONT, titleFont=FONT, labelFontSize=20, titleFontSize=20,
    titleFontWeight="normal"
)

chart.save("out.html", embed_options={"renderer": "svg", "actions": False})
